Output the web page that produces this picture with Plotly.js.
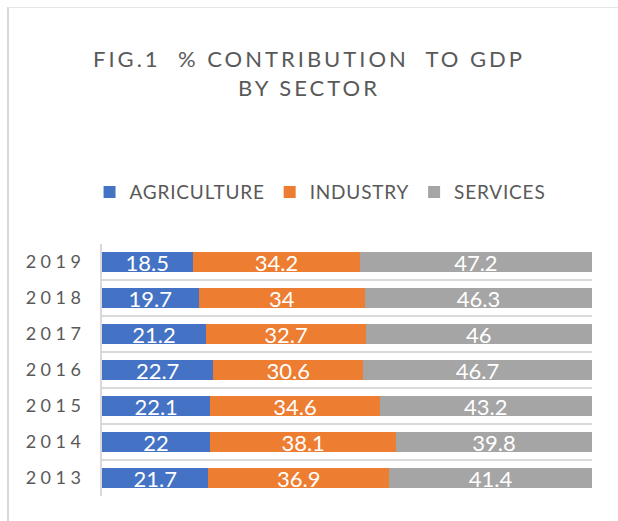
<!DOCTYPE html>
<html>
<head>
<meta charset="utf-8">
<script src="https://cdn.plot.ly/plotly-3.0.1.min.js"></script>
<style>
  html, body { margin: 0; padding: 0; background: #fff; }
  #wrap { position: relative; width: 618px; height: 521px; }
  #chart { width: 618px; height: 521px; }
  #frame { position: absolute; left: 7px; top: 7px; right: 0; bottom: 0;
           border-left: 2px solid #d9d9d9; border-top: 1px solid #e6e6e6; pointer-events: none; }
  .gtitle { letter-spacing: 3px; }
  .ytick text { letter-spacing: 4.5px; }
  .legendtext { letter-spacing: 0.8px; }
</style>
</head>
<body>
<div id="wrap">
  <div id="chart"></div>
  <div id="frame"></div>
</div>
<script>
const years = ['2013', '2014', '2015', '2016', '2017', '2018', '2019'];
const agriculture = [21.7, 22, 22.1, 22.7, 21.2, 19.7, 18.5];
const industry = [36.9, 38.1, 34.6, 30.6, 32.7, 34, 34.2];
const services = [41.4, 39.8, 43.2, 46.7, 46, 46.3, 47.2];

const seriesNames = ['AGRICULTURE', 'INDUSTRY', 'SERVICES'];
const seriesValues = [agriculture, industry, services];
const colors = ['#4472C4', '#ED7D31', '#A5A5A5'];

const traces = seriesValues.map((vals, i) => ({
  type: 'bar',
  orientation: 'h',
  name: seriesNames[i],
  y: years,
  x: vals,
  text: vals.map(v => String(v)),
  textposition: 'inside',
  insidetextanchor: 'middle',
  constraintext: 'none',
  textangle: 0,
  textfont: { family: 'Lato, "Liberation Sans", sans-serif', size: 22, color: '#ffffff' },
  marker: { color: colors[i], line: { width: 0 } },
  hoverinfo: 'none'
}));

const layout = {
  width: 618,
  height: 521,
  barmode: 'stack',
  bargap: 0.45,
  paper_bgcolor: '#ffffff',
  plot_bgcolor: '#ffffff',
  margin: { l: 102, r: 26, t: 244, b: 25 },
  font: { family: 'Lato, "Liberation Sans", sans-serif', color: '#595959' },
  title: {
    text: 'FIG.1  % CONTRIBUTION  TO GDP<br>BY SECTOR',
    font: { family: 'Lato, "Liberation Sans", sans-serif', size: 22, color: '#595959' },
    x: 0.5, xref: 'container', xanchor: 'center',
    y: 0.871, yref: 'container', yanchor: 'top'
  },
  showlegend: true,
  legend: {
    orientation: 'h',
    x: 0.445, xref: 'paper', xanchor: 'center',
    y: 1.206, yanchor: 'middle',
    font: { size: 19, color: '#595959' },
    traceorder: 'normal'
  },
  xaxis: {
    range: [0, 100],
    autorange: false,
    showgrid: false,
    zeroline: false,
    showticklabels: false,
    ticks: '',
    showline: false,
    fixedrange: true
  },
  yaxis: {
    type: 'category',
    categoryorder: 'array',
    categoryarray: years,
    tickson: 'boundaries',
    showgrid: true,
    gridcolor: '#d9d9d9',
    gridwidth: 2,
    showline: true,
    linecolor: '#d9d9d9',
    linewidth: 2,
    ticks: '',
    ticklabelstandoff: 11,
    tickfont: { size: 18, color: '#595959' },
    zeroline: false,
    fixedrange: true
  }
};

Plotly.newPlot('chart', traces, layout, { displayModeBar: false, staticPlot: true });
</script>
</body>
</html>
